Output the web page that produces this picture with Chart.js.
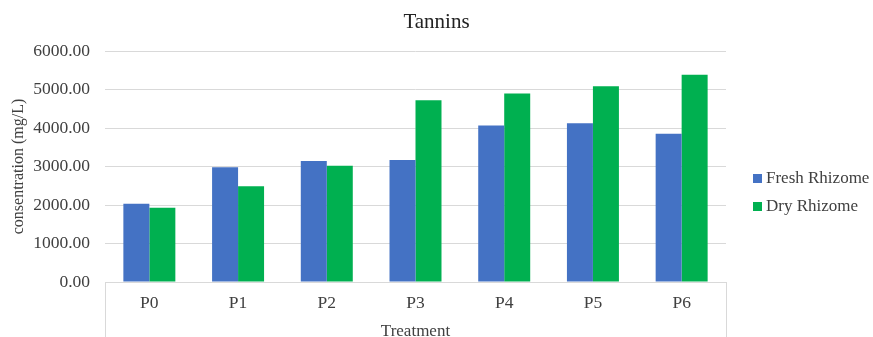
<!DOCTYPE html>
<html lang="en">
<head>
  <meta charset="UTF-8" />
  <title>Tannins</title>
  <style>
    body {
      margin: 0;
      background: #ffffff;
      font-family: 'Liberation Serif', 'Times New Roman', serif;
    }
    .wrap {
      position: relative;
      width: 873px;
      height: 337px;
    }
    .chart-title {
      position: absolute;
      left: 0;
      top: 9px;
      width: 873px;
      text-align: center;
      font-size: 21px;
      line-height: 24px;
      color: #222222;
    }
    .legend {
      position: absolute;
      left: 753px;
      top: 164px;
      font-size: 17px;
      color: #404040;
    }
    .legend-item {
      display: flex;
      align-items: center;
      height: 28px;
    }
    .legend-box {
      width: 9px;
      height: 9px;
      margin-right: 4px;
    }
  </style>
</head>
<body>
  <div class="wrap">
    <canvas id="tanninChart"></canvas>
    <div class="chart-title">Tannins</div>
    <div class="legend" id="legend"></div>
  </div>

  <script src="https://cdn.jsdelivr.net/npm/chart.js"></script>
  <script>
    // data
    const treatments = ['P0', 'P1', 'P2', 'P3', 'P4', 'P5', 'P6'];
    const freshRhizome = [2030, 2980, 3140, 3170, 4065, 4125, 3850];
    const dryRhizome = [1930, 2490, 3020, 4720, 4895, 5085, 5380];
    const yTicks = [0, 1000, 2000, 3000, 4000, 5000, 6000];

    const seriesNames = ['Fresh Rhizome', 'Dry Rhizome'];
    const seriesColors = ['#4472C4', '#00B050'];
    const gridColor = '#d9d9d9';
    const textColor = '#404040';
    const serif = "'Liberation Serif', 'Times New Roman', serif";

    // the two vertical lines under the axis at the plot edges
    const edgeLines = {
      id: 'edgeLines',
      afterDraw(chart) {
        const { ctx, chartArea } = chart;
        ctx.save();
        ctx.strokeStyle = gridColor;
        ctx.lineWidth = 1;
        ctx.beginPath();
        [chartArea.left, chartArea.right].forEach(x => {
          const px = Math.round(x) + 0.5;
          ctx.moveTo(px, chartArea.bottom);
          ctx.lineTo(px, chart.height);
        });
        ctx.stroke();
        ctx.restore();
      }
    };

    const ctx = document.getElementById('tanninChart').getContext('2d');
    new Chart(ctx, {
      type: 'bar',
      data: {
        labels: treatments,
        datasets: [
          { label: seriesNames[0], data: freshRhizome, backgroundColor: seriesColors[0] },
          { label: seriesNames[1], data: dryRhizome, backgroundColor: seriesColors[1] }
        ]
      },
      options: {
        responsive: true,
        maintainAspectRatio: false,
        animation: false,
        layout: { padding: { left: 0, right: 147, top: 51, bottom: 0 } },
        datasets: {
          bar: { categoryPercentage: 0.586, barPercentage: 1 }
        },
        plugins: {
          legend: { display: false },
          tooltip: { enabled: false }
        },
        scales: {
          x: {
            grid: { display: false, drawTicks: false },
            border: { display: true, color: gridColor },
            ticks: { color: textColor, font: { family: serif, size: 17.5 }, padding: 11 },
            title: {
              display: true,
              text: 'Treatment',
              color: textColor,
              font: { family: serif, size: 17, lineHeight: 0.7 },
              padding: 0
            },
            afterFit(scale) { scale.height = 55; }
          },
          y: {
            min: 0,
            max: 6000,
            afterBuildTicks(scale) { scale.ticks = yTicks.map(v => ({ value: v })); },
            grid: { color: gridColor, drawTicks: false },
            border: { display: false },
            ticks: {
              color: textColor,
              font: { family: serif, size: 17.5 },
              padding: 15,
              callback: v => v.toFixed(2)
            },
            title: {
              display: true,
              text: 'consentration (mg/L)',
              color: textColor,
              font: { family: serif, size: 16, lineHeight: 1.2 },
              padding: { top: 9, bottom: 0 }
            },
            afterFit(scale) { scale.width = 105; }
          }
        }
      },
      plugins: [edgeLines]
    });

    // legend on the right
    const legendEl = document.getElementById('legend');
    seriesNames.forEach((name, i) => {
      const item = document.createElement('div');
      item.className = 'legend-item';
      item.innerHTML = '<span class="legend-box" style="background:' + seriesColors[i] + '"></span>' + name;
      legendEl.appendChild(item);
    });
  </script>
</body>
</html>
